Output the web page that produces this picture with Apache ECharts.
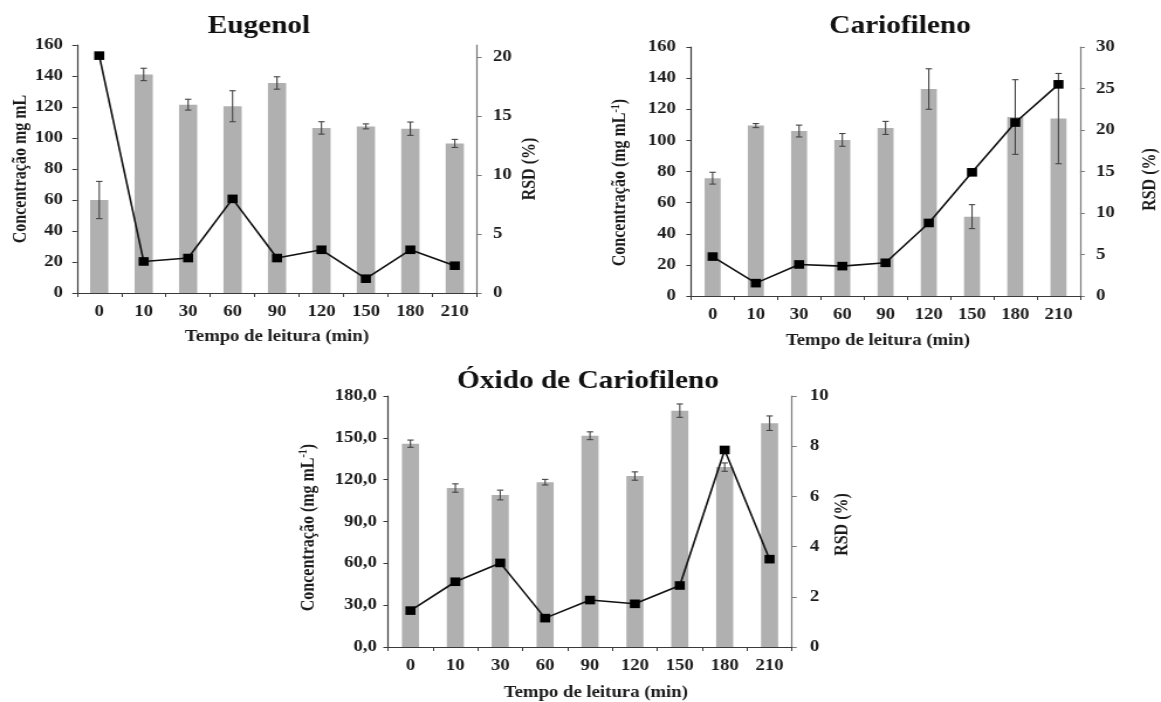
<!DOCTYPE html>
<html>
<head>
<meta charset="utf-8">
<script src="https://cdn.jsdelivr.net/npm/echarts@6/dist/echarts.min.js"></script>
<style>
  html, body { margin: 0; padding: 0; background: #fff; overflow: hidden; }
  /* the figure is drawn narrower and widened horizontally, like the printed plate */
  #chart { width: 992px; height: 702px; transform: scaleX(1.17036); transform-origin: 0 0; }
</style>
</head>
<body>
<div id="chart"></div>
<script>
// ---- data -------------------------------------------------------------
const tempos = ['0', '10', '30', '60', '90', '120', '150', '180', '210'];

// Eugenol
const eugenolConc = [60, 141, 121.5, 120.5, 135.5, 106.5, 107.5, 106, 96.5];
const eugenolErr  = [12, 4, 3.5, 10, 4, 4, 1.6, 4.3, 2.6];
const eugenolRsd  = [20.1, 2.67, 2.96, 7.97, 2.96, 3.66, 1.21, 3.66, 2.31];
const eugenolRsdTicks = [0, 5, 10, 15, 20];

// Cariofileno
const cariofilenoConc = [75.7, 109.5, 106, 100.3, 108, 133, 51, 115, 114];
const cariofilenoErr  = [3.8, 1.3, 3.8, 4.1, 4.2, 13, 7.7, 24, 29];
const cariofilenoRsd  = [4.75, 1.55, 3.8, 3.6, 4.0, 8.8, 14.9, 20.9, 25.5];

// Óxido de Cariofileno
const oxidoConc = [145.8, 114, 109, 118.2, 151.5, 122.6, 169.5, 129, 160.5];
const oxidoErr  = [2.6, 3, 3.5, 2, 2.8, 3, 4.8, 3, 5.2];
const oxidoRsd  = [1.45, 2.6, 3.35, 1.15, 1.87, 1.72, 2.45, 7.85, 3.5];

// ---- layout helpers ----------------------------------------------------
const SX = 1161 / 992;              // horizontal widening of the canvas
const px = v => v / SX;             // page x-distance -> canvas units
const FONT = '"Liberation Serif", "Times New Roman", serif';
const TEXT = '#1c1c1c';
const BAR = '#b0b0b0';
const ERR = '#454545';

const panels = [
  {
    title: 'Eugenol', titleX: 259, titleY: 14,
    box: { l: 77, r: 477, t: 45, b: 293 },
    conc: eugenolConc, err: eugenolErr, rsd: eugenolRsd,
    leftMax: 160, leftStep: 20, leftFmt: v => String(v), leftMargin: 14,
    rightMax: 21, rightStep: 5, rightTicks: eugenolRsdTicks, rightMargin: 16,
    leftName: 'Concentração mg mL', leftGap: 54 - 8, leftShift: 0,
    rightGap: 52 - 8, rightShift: 0,
    xGap: 36, xShift: 0, barWidth: '41%'
  },
  {
    title: 'Cariofileno', titleX: 900, titleY: 14,
    box: { l: 691, r: 1083, t: 47, b: 296 },
    conc: cariofilenoConc, err: cariofilenoErr, rsd: cariofilenoRsd,
    leftMax: 160, leftStep: 20, leftFmt: v => String(v), leftMargin: 15,
    rightMax: 30, rightStep: 5, rightTicks: null, rightMargin: 16,
    leftName: 'Concentração (mg mL{sup|-1})', leftGap: 68 - 8, leftShift: 22,
    rightGap: 69 - 8, rightShift: 16,
    xGap: 37, xShift: -13, barWidth: '37%'
  },
  {
    title: 'Óxido de Cariofileno', titleX: 588, titleY: 369,
    box: { l: 388, r: 792, t: 396, b: 647 },
    conc: oxidoConc, err: oxidoErr, rsd: oxidoRsd,
    leftMax: 180, leftStep: 30, leftFmt: v => v.toFixed(1).replace('.', ','), leftMargin: 11,
    rightMax: 10, rightStep: 2, rightTicks: null, rightMargin: 18,
    leftName: 'Concentração (mg mL{sup|-1})', leftGap: 77 - 8, leftShift: 12,
    rightGap: 40 - 8, rightShift: 6,
    xGap: 38, xShift: 10, barWidth: '38%'
  }
];

const nameStyle = (shiftDown) => ({
  fontFamily: FONT, fontWeight: 'bold', fontSize: 16, color: TEXT,
  // padding on the far end of the rotated text nudges it along the axis
  padding: shiftDown ? [0, shiftDown, 0, 0] : 0,
  rich: {
    sup: { fontFamily: FONT, fontWeight: 'bold', fontSize: 10, color: TEXT, padding: [0, 0, 8, 0] }
  }
});

const labelStyle = { fontFamily: FONT, fontWeight: 'bold', fontSize: 16, color: TEXT };

const option = {
  animation: false,
  backgroundColor: '#ffffff',
  title: [], grid: [], xAxis: [], yAxis: [], series: []
};

panels.forEach((p, i) => {
  option.title.push({
    text: p.title, left: px(p.titleX), top: p.titleY, textAlign: 'center', padding: 0,
    textStyle: { fontFamily: FONT, fontWeight: 'bold', fontSize: 25, color: '#111' }
  });
  option.grid.push({
    left: px(p.box.l), top: p.box.t,
    width: px(p.box.r - p.box.l), height: p.box.b - p.box.t,
    containLabel: false
  });
  option.xAxis.push({
    type: 'category', gridIndex: i, data: tempos, boundaryGap: true,
    name: 'Tempo de leitura (min)', nameLocation: 'middle', nameGap: p.xGap,
    nameTextStyle: Object.assign({}, labelStyle, {
      padding: p.xShift > 0 ? [0, 0, 0, p.xShift] : (p.xShift < 0 ? [0, -p.xShift, 0, 0] : 0)
    }),
    axisLine: { show: true, lineStyle: { color: '#3a3a3a', width: 1.2 } },
    axisTick: { show: true, interval: 0, alignWithLabel: false, length: 4, lineStyle: { color: '#3a3a3a' } },
    axisLabel: Object.assign({}, labelStyle, { interval: 0, margin: 11 }),
    splitLine: { show: false }
  });
  option.yAxis.push({
    type: 'value', gridIndex: i, position: 'left',
    min: 0, max: p.leftMax, interval: p.leftStep,
    name: p.leftName, nameLocation: 'middle', nameRotate: 90, nameGap: px(p.leftGap),
    nameTextStyle: nameStyle(p.leftShift),
    axisLine: { show: true, lineStyle: { color: '#3a3a3a', width: 1.2 } },
    axisTick: { show: true, length: 4, lineStyle: { color: '#3a3a3a' } },
    axisLabel: Object.assign({}, labelStyle, { margin: px(p.leftMargin), formatter: p.leftFmt }),
    splitLine: { show: false }
  });
  const rightLabel = Object.assign({}, labelStyle, { margin: px(p.rightMargin) });
  const rightTick = { show: true, length: 4, lineStyle: { color: '#7a7a7a' } };
  if (p.rightTicks) {
    rightLabel.customValues = p.rightTicks;
    rightTick.customValues = p.rightTicks;
  }
  option.yAxis.push({
    type: 'value', gridIndex: i, position: 'right',
    min: 0, max: p.rightMax, interval: p.rightStep,
    name: 'RSD (%)', nameLocation: 'middle', nameRotate: 90, nameGap: px(p.rightGap),
    nameTextStyle: nameStyle(p.rightShift),
    axisLine: { show: true, lineStyle: { color: '#7a7a7a', width: 1.2 } },
    axisTick: rightTick,
    axisLabel: rightLabel,
    splitLine: { show: false }
  });

  const leftIdx = i * 2, rightIdx = i * 2 + 1;

  // concentration bars
  option.series.push({
    type: 'bar', xAxisIndex: i, yAxisIndex: leftIdx,
    data: p.conc, barWidth: p.barWidth,
    itemStyle: { color: BAR }, z: 2
  });

  // error bars (mean ± deviation) on the concentration axis
  option.series.push({
    type: 'custom', xAxisIndex: i, yAxisIndex: leftIdx,
    data: p.conc.map((c, k) => [k, c - p.err[k], c + p.err[k]]),
    encode: { x: 0, y: [1, 2] },
    z: 3,
    renderItem: (params, api) => {
      const k = api.value(0);
      const lo = api.coord([k, api.value(1)]);
      const hi = api.coord([k, api.value(2)]);
      const hw = px(3.2);
      const st = { stroke: ERR, lineWidth: 1.1 };
      return {
        type: 'group',
        children: [
          { type: 'line', shape: { x1: lo[0], y1: lo[1], x2: hi[0], y2: hi[1] }, style: st },
          { type: 'line', shape: { x1: hi[0] - hw, y1: hi[1], x2: hi[0] + hw, y2: hi[1] }, style: st },
          { type: 'line', shape: { x1: lo[0] - hw, y1: lo[1], x2: lo[0] + hw, y2: lo[1] }, style: st }
        ]
      };
    }
  });

  // RSD line on the right axis
  option.series.push({
    type: 'line', xAxisIndex: i, yAxisIndex: rightIdx,
    data: p.rsd, symbol: 'rect', symbolSize: 8.6,
    lineStyle: { color: '#111', width: 1.6 },
    itemStyle: { color: '#000' },
    z: 5
  });
});

const chart = echarts.init(document.getElementById('chart'), null, { renderer: 'canvas' });
chart.setOption(option);
</script>
</body>
</html>
